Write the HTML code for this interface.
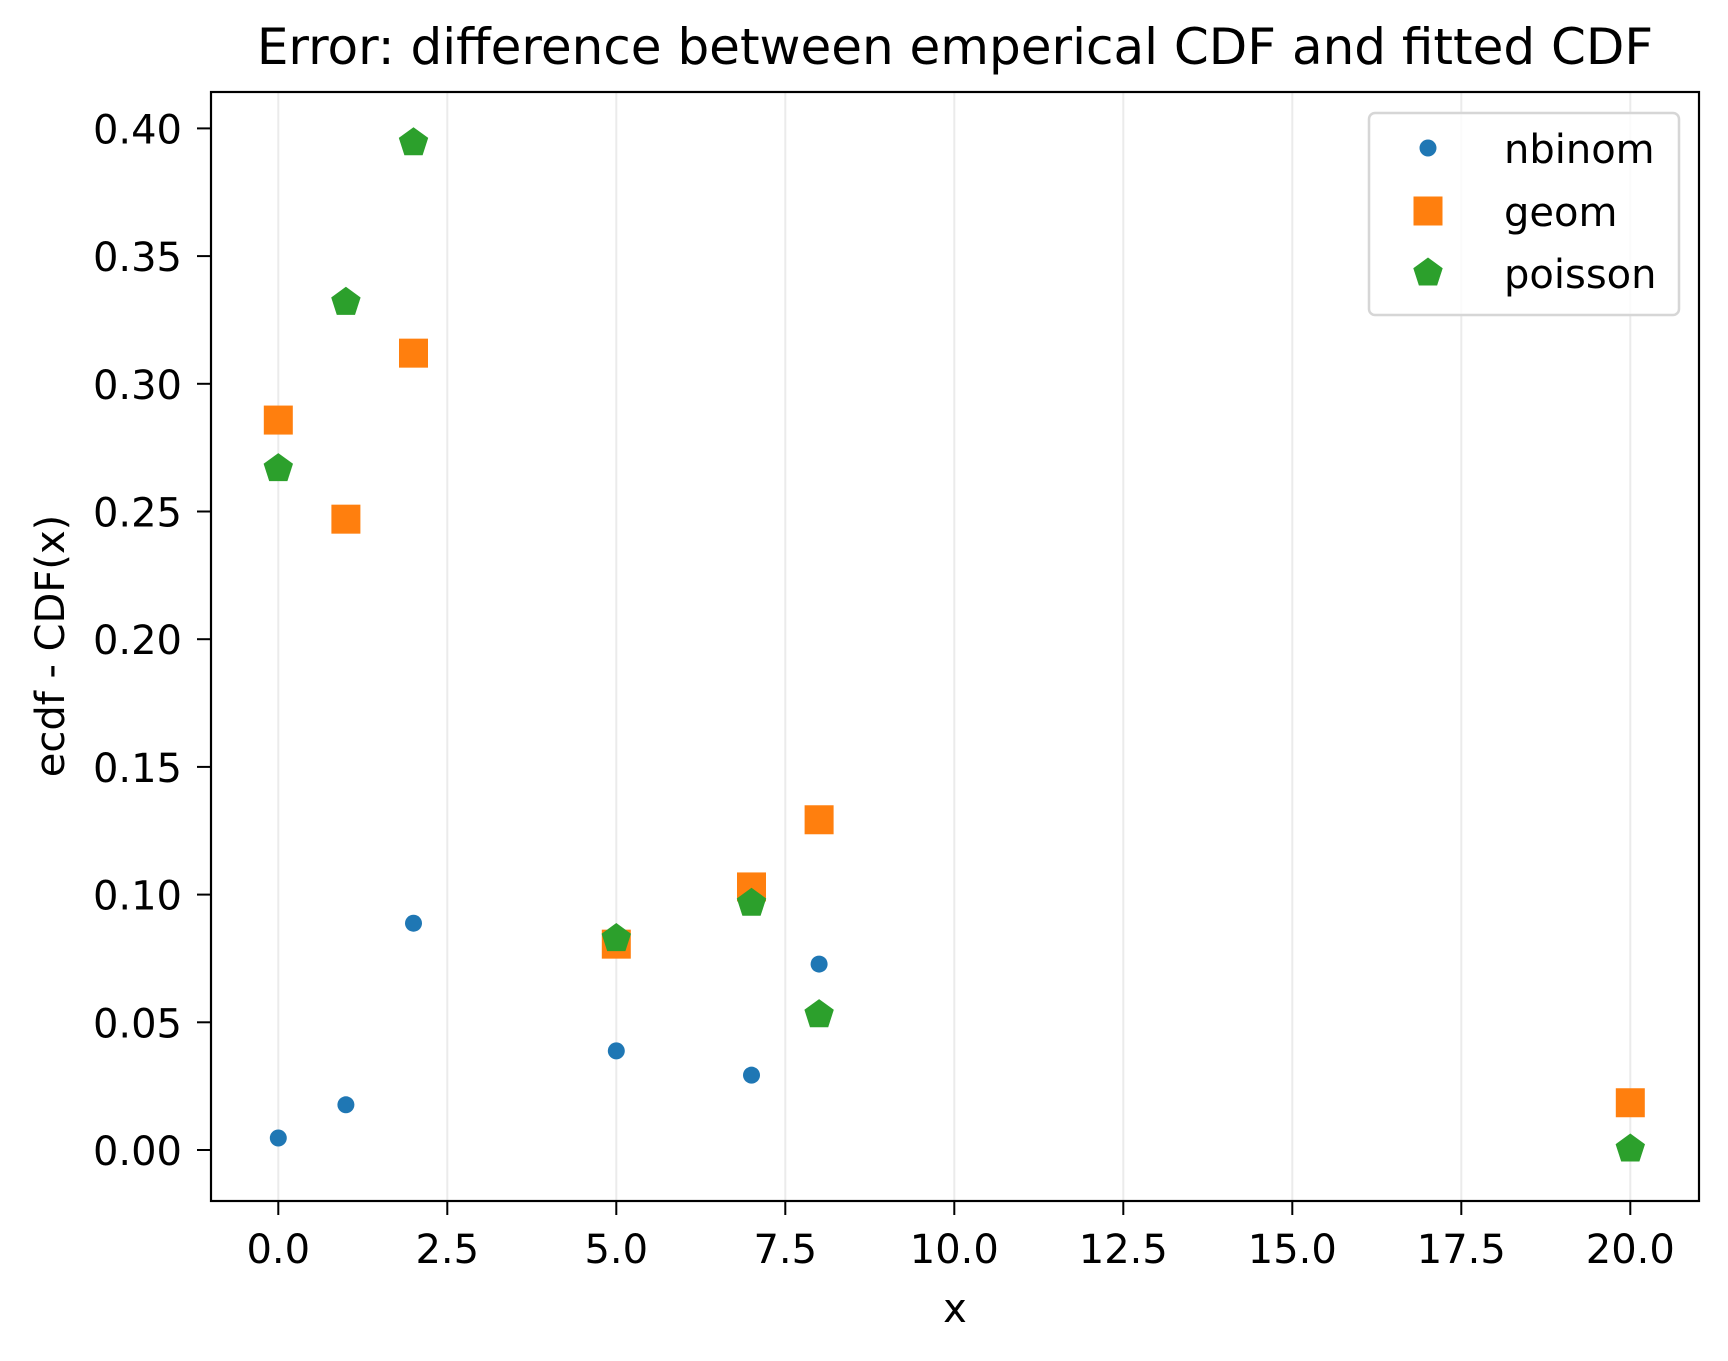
<!DOCTYPE html>
<html><head><meta charset="utf-8"><style>
html,body{margin:0;padding:0;background:#fff;}
svg{display:block;font-family:"DejaVu Sans","Liberation Sans",sans-serif;}
</style></head><body>
<svg id="chart" width="1728" height="1361" viewBox="0 0 1728 1361" xmlns="http://www.w3.org/2000/svg">
<rect width="1728" height="1361" fill="#fff"/>
<text x="955" y="64" font-size="50" text-anchor="middle">Error: difference between emperical CDF and fitted CDF</text>
<g id="grid"></g>
<g id="marks"></g>
<rect x="211" y="92" width="1488" height="1109" fill="none" stroke="#000" stroke-width="2.2"/>
<g id="ticks"></g>
<text x="955" y="1322" font-size="40" text-anchor="middle">x</text>
<text x="0" y="0" font-size="40" text-anchor="middle" transform="translate(64,646) rotate(-90)">ecdf - CDF(x)</text>
<g id="legend"></g>
</svg>
<script>
const xTicks=[0,2.5,5,7.5,10,12.5,15,17.5,20];
const xTickLabels=["0.0","2.5","5.0","7.5","10.0","12.5","15.0","17.5","20.0"];
const yTicks=[0,0.05,0.1,0.15,0.2,0.25,0.3,0.35,0.4];
const yTickLabels=["0.00","0.05","0.10","0.15","0.20","0.25","0.30","0.35","0.40"];
const nbinomX=[0,1,2,5,7,8];
const nbinomY=[0.0047,0.0177,0.0888,0.0388,0.0293,0.0728];
const geomX=[0,1,2,5,7,8,20];
const geomY=[0.2858,0.247,0.312,0.0806,0.103,0.1293,0.0185];
const poissonX=[0,1,2,5,7,8,20];
const poissonY=[0.2668,0.3319,0.3944,0.0828,0.0966,0.053,0.0004];

const NS="http://www.w3.org/2000/svg";
function X(v){return 278.3+v*67.6;}
function Y(v){return 1150+(-v)*2554;}
function mk(tag,attrs,parent){const e=document.createElementNS(NS,tag);for(const k in attrs)e.setAttribute(k,attrs[k]);parent.appendChild(e);return e;}
const grid=document.getElementById('grid'),ticks=document.getElementById('ticks'),marks=document.getElementById('marks'),legend=document.getElementById('legend');
xTicks.forEach((t,i)=>{
  const g=mk('line',{x1:X(t),x2:X(t),y1:92,y2:1201,stroke:'#ebebeb','stroke-width':2},grid);
  
  
  const tk=mk('line',{x1:X(t),x2:X(t),y1:1201,y2:1215,stroke:'#000','stroke-width':2},ticks);
  
  
  const tl=mk('text',{x:X(t),y:1263,'font-size':40,'text-anchor':'middle'},ticks);
  tl.textContent=xTickLabels[i];
  
  
});
yTicks.forEach((t,i)=>{
  const tk=mk('line',{x1:197,x2:211,y1:Y(t),y2:Y(t),stroke:'#000','stroke-width':2},ticks);
  
  
  const tl=mk('text',{x:182,y:Y(t)+15,'font-size':40,'text-anchor':'end'},ticks);
  tl.textContent=yTickLabels[i];
  
  
});
function circle(cx,cy,p){return mk('circle',{cx:cx,cy:cy,r:8.5,fill:'#1f77b4'},p);}
function square(cx,cy,p){return mk('rect',{x:cx-14.5,y:cy-14.5,width:29,height:29,fill:'#ff7f0e'},p);}
function pent(cx,cy,p){const r=15.5;let pts=[];for(let k=0;k<5;k++){const a=-Math.PI/2+k*2*Math.PI/5;pts.push((cx+r*Math.cos(a)).toFixed(1)+','+(cy+r*Math.sin(a)).toFixed(1));}return mk('polygon',{points:pts.join(' '),fill:'#2ca02c'},p);}
nbinomX.forEach((x,i)=>{const e=circle(X(x),Y(nbinomY[i]),marks);
  
  });
geomX.forEach((x,i)=>{const e=square(X(x),Y(geomY[i]),marks);
  
  });
poissonX.forEach((x,i)=>{const e=pent(X(x),Y(poissonY[i]),marks);
  
  });
const lb=mk('rect',{x:1369,y:113,width:310,height:202,rx:6,fill:'#fff','fill-opacity':0.8,stroke:'#d6d6d6','stroke-width':2.5},legend);


const names=['nbinom','geom','poisson'],rows=[148,211,273],fns=[circle,square,pent];
names.forEach((n,i)=>{
  const m=fns[i](1428,rows[i],legend);
  
  
  const t=mk('text',{x:1504,y:rows[i]+15,'font-size':40},legend);
  t.textContent=n;
  
  
});
</script>
</body></html>
